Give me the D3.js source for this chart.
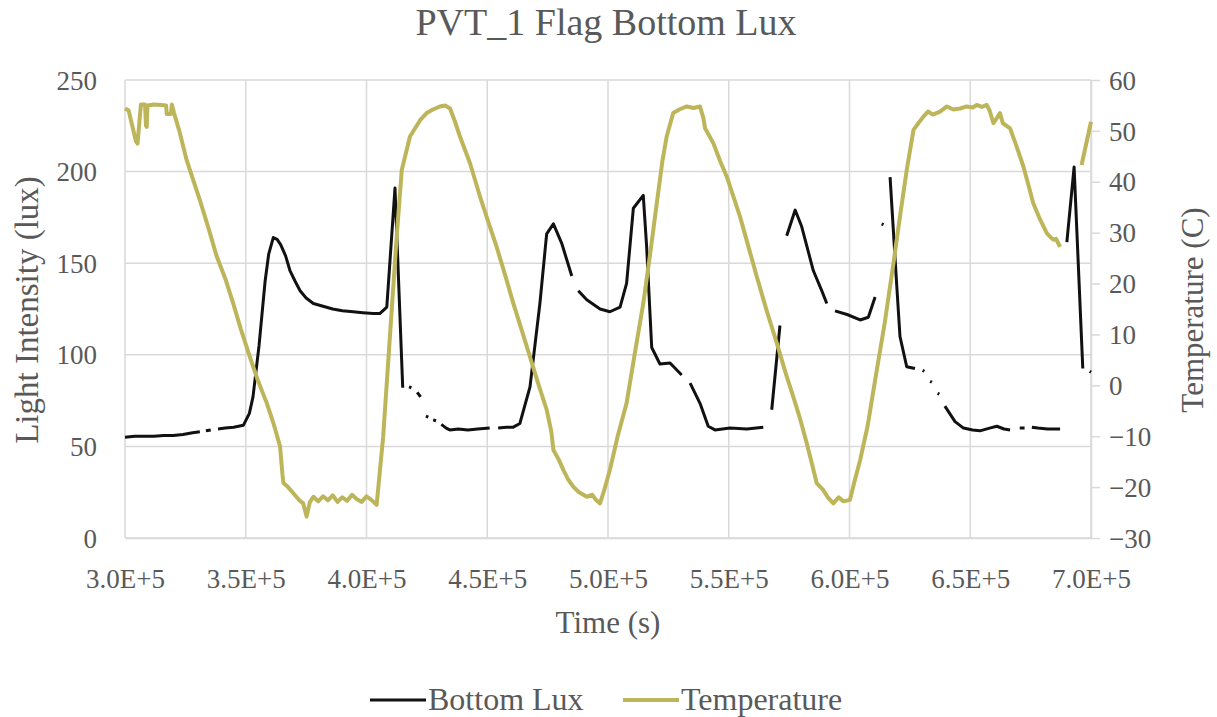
<!DOCTYPE html>
<html>
<head>
<meta charset="utf-8">
<script src="https://cdn.jsdelivr.net/npm/d3@7"></script>
<style>
  body { margin: 0; background: #fff; }
  svg text { font-family: "Liberation Serif", "DejaVu Serif", serif !important; fill: #595959; }
</style>
</head>
<body>
<div id="chart"></div>
<script>
// x ticks (seconds) and y ticks
var xTicks = [300000, 350000, 400000, 450000, 500000, 550000, 600000, 650000, 700000];
var xTickLabels = ["3.0E+5", "3.5E+5", "4.0E+5", "4.5E+5", "5.0E+5", "5.5E+5", "6.0E+5", "6.5E+5", "7.0E+5"];
var luxTicks = [0, 50, 100, 150, 200, 250];
var tempTicks = [-30, -20, -10, 0, 10, 20, 30, 40, 50, 60];

// Bottom Lux series (null = gap in the logged data)
var luxTime = [300000, 304000, 308000, 312000, 316000, 320000, 324000, 328000, 331000, 332000,
  333500, 335500, 336500, 338500, 341500, 345000, 349000, 351500, 353000, 355500,
  358000, 359500, 361400, 363000, 364500, 366500, 368300, 370500, 372500, 375000,
  378000, 382000, 386000, 390000, 394500, 398500, 402800, 405500, 408400, 411800,
  415000, 416200, 417600, 418600, 419200, 421000, 422400, 423000, 424600, 425600,
  426200, 427600, 428800, 429400, 431000, 433000, 434500, 438000, 442000, 446000,
  451000, 452500, 454500, 458000, 460800, 463500, 467700, 471800, 474600, 477400,
  480800, 485000, 486200, 487700, 491200, 496700, 500800, 505000, 507700, 510500,
  514600, 516000, 518100, 521500, 525700, 530500, 532200, 534000, 538100, 541500,
  544300, 550500, 557500, 564300, 566000, 567800, 571200, 572600, 574000, 577500,
  580200, 585000, 588500, 590600, 592500, 594000, 599000, 604400, 607800, 610600,
  612000, 613300, 614100, 615000, 616800, 619600, 620900, 623700, 627100, 628500,
  630300, 631000, 631600, 633400, 634100, 634700, 636500, 637200, 637800, 639500,
  643700, 647200, 651000, 654000, 658000, 661000, 664000, 666500, 668000, 670500,
  672500, 674000, 675500, 678000, 682000, 687200, 688500, 690000, 693000, 696600,
  698500, 699500, 700000];
var luxValue = [55, 55.5, 55.5, 55.5, 56, 56, 56.5, 57.5, 58, null,
  58.5, 59, null, 59.5, 60, 60.5, 61.5, 68, 77, 105,
  140, 155, 164, 163, 160, 154, 146, 140, 135, 131,
  128, 126.5, 125, 124, 123.5, 123, 122.5, 122.5, 126, 191,
  82, null, 82.5, 82, null, 79.5, 77, null, 66.5, 66,
  null, 64.5, 64, null, 62, 60, 59, 59.5, 59, 59.5,
  60, null, 60, 60.5, 60.5, 62.5, 82.5, 128, 166, 171.5,
  161, 143, null, 135, 130, 125, 123.5, 126, 139, 180,
  187, 159, 104, 95, 95.5, 89, null, 84.5, 73.5, 61,
  59, 60, 59.5, 60.5, null, 70, 116, null, 165, 179,
  170, 146, 135, 128, null, 124, 122, 119, 120.5, 131.5,
  null, 171.5, 171, null, 197, 137, 110, 93.5, 92.5, null,
  91.5, 91, null, 85.5, 85, null, 79, 78.5, null, 72,
  63.5, 60, 59, 58.5, 60, 61, 59.5, 59, null, 60,
  60, null, 60.5, 60, 59.5, 59.5, null, 161.5, 202.5, 92.5,
  null, 91, 90.5];

// Temperature series
var tempTime = [300000, 301500, 303000, 304500, 305200, 306000, 306600, 308300, 308700, 309000,
  309300, 312000, 315000, 317000, 317300, 319000, 319400, 320300, 322500, 325500,
  328500, 331000, 334500, 338000, 341500, 344800, 348000, 351700, 355000, 358700,
  361500, 364200, 365200, 365600, 367500, 369700, 372000, 373800, 375200, 376500,
  378000, 380000, 382000, 384000, 386000, 388000, 390000, 392000, 394000, 396000,
  398000, 400000, 402000, 404200, 406900, 409700, 412500, 414600, 418000, 422200,
  424900, 427500, 430400, 432500, 434600, 436500, 438700, 442900, 447000, 450500,
  453900, 457500, 460800, 464500, 467700, 471000, 474600, 476500, 477400, 479500,
  481500, 483500, 485600, 488000, 491200, 493500, 495000, 496700, 498500, 500800,
  504000, 507700, 511000, 514600, 517500, 520200, 522500, 524300, 527000, 529500,
  532600, 535500, 538100, 539500, 540200, 543600, 546500, 549200, 552000, 554700,
  558000, 561600, 565500, 569900, 573500, 576700, 579500, 582300, 584500, 586400,
  589000, 591000, 593300, 595500, 597500, 600200, 602000, 604400, 607500, 611300,
  614500, 618200, 621000, 623700, 626500, 628500, 630600, 632500, 634500, 637500,
  640300, 643000, 645800, 648500, 651000, 652700, 654800, 656800, 658000, 659600,
  661000, 662300, 663500, 666500, 669500, 672000, 674000, 676100, 679000, 681700,
  683500, 684500, 685500, 687200, 688500, 696100, 700000];
var tempValue = [54.4, 54, 51, 48, 47.5, 52, 55.2, 55.2, 51, 50.8,
  55, 55.2, 55.1, 55, 53.3, 53.3, 55.2, 53.5, 50, 44.3,
  40, 36.4, 31, 25.3, 21, 16.1, 11, 5.6, 1, -3.5,
  -7.5, -12, -17.5, -19.2, -20, -21.2, -22.5, -23.2, -25.8, -23,
  -21.9, -22.8, -21.8, -22.6, -21.6, -22.9, -22, -22.7, -21.5, -22.4,
  -22.9, -21.8, -22.5, -23.5, -10.1, 9.6, 29.2, 42.3, 48.9, 52.1,
  53.5, 54.2, 54.8, 55, 54.4, 52, 48.9, 43.6, 37.1, 32,
  27.2, 21.5, 16.1, 10.5, 5.6, 0.5, -4.8, -9, -12.7, -14.5,
  -16.6, -18.5, -19.9, -21, -21.9, -21.5, -22.5, -23.2, -20.5, -16.6,
  -10, -3.5, 6, 16.1, 26, 35.8, 44, 48.9, 53.5, 54.2,
  54.8, 54.5, 54.8, 52.5, 50.5, 47.6, 44, 41, 37, 33.1,
  27.5, 21.4, 15, 8.3, 2.5, -2.2, -6.5, -11.4, -15.5, -19.2,
  -20.5, -22, -23.2, -22, -22.8, -22.5, -19, -14.7, -8, 3,
  12, 24, 33.5, 42.3, 50.2, 51.5, 52.8, 53.8, 53.2, 53.8,
  54.8, 54.2, 54.4, 54.8, 54.6, 55.1, 54.7, 55.1, 54, 51.5,
  52.5, 53.5, 51.5, 50.5, 46.5, 43, 39.5, 35.8, 32.5, 29.9,
  29, 28.6, 28.8, 27.2, null, 43.3, 51.8];

var luxData = luxTime.map(function(t, i) { return {t: t, v: luxValue[i]}; });
var tempData = tempTime.map(function(t, i) { return {t: t, v: tempValue[i]}; });

var W = 1217, H = 717;
var margin = {top: 80, right: 126, bottom: 179, left: 125};
var width = W - margin.left - margin.right,
    height = H - margin.top - margin.bottom;
var serif = '"Liberation Serif", "DejaVu Serif", serif';

var svg = d3.select("#chart")
  .append("svg")
    .attr("width", W)
    .attr("height", H)
    .attr("font-family", serif);

var g = svg.append("g")
    .attr("transform", "translate(" + margin.left + "," + margin.top + ")");

var x = d3.scaleLinear().domain([300000, 700000]).range([0, width]);
var yL = d3.scaleLinear().domain([0, 250]).range([height, 0]);
var yR = d3.scaleLinear().domain([-30, 60]).range([height, 0]);

var gridColor = "#d9d9d9";

// gridlines
g.selectAll(".hgrid")
  .data(luxTicks)
  .enter().append("line")
    .attr("x1", 0).attr("x2", width)
    .attr("y1", function(d) { return yL(d); })
    .attr("y2", function(d) { return yL(d); })
    .attr("stroke", gridColor).attr("stroke-width", 1.5);
g.selectAll(".vgrid")
  .data(xTicks)
  .enter().append("line")
    .attr("x1", function(d) { return x(d); })
    .attr("x2", function(d) { return x(d); })
    .attr("y1", 0).attr("y2", height)
    .attr("stroke", gridColor).attr("stroke-width", 1.5);

// x axis labels
var xAxis = g.append("g")
  .attr("transform", "translate(0," + height + ")")
  .call(d3.axisBottom(x).tickValues(xTicks).tickSize(0).tickPadding(0)
    .tickFormat(function(d, i) { return xTickLabels[i]; }));
xAxis.attr("font-family", serif).attr("font-size", 27);
xAxis.select(".domain").attr("stroke", gridColor).attr("stroke-width", 1.5);
xAxis.selectAll("text").attr("dy", null).attr("y", 50);

// left axis labels
var leftAxis = g.append("g")
  .call(d3.axisLeft(yL).tickValues(luxTicks).tickSize(0).tickPadding(28));
leftAxis.attr("font-family", serif).attr("font-size", 27);
leftAxis.select(".domain").remove();
leftAxis.selectAll("text").attr("dy", "0.34em");

// right axis with outward ticks
var rightAxis = g.append("g")
  .attr("transform", "translate(" + width + ",0)")
  .call(d3.axisRight(yR).tickValues(tempTicks).tickSize(9).tickSizeOuter(0).tickPadding(9));
rightAxis.attr("font-family", serif).attr("font-size", 27);
rightAxis.select(".domain").attr("stroke", gridColor).attr("stroke-width", 1.5);
rightAxis.selectAll("line").attr("stroke", gridColor).attr("stroke-width", 1.5);
rightAxis.selectAll("text").attr("dy", "0.34em");

// lines
var luxLine = d3.line()
  .defined(function(d) { return d.v !== null; })
  .x(function(d) { return x(d.t); })
  .y(function(d) { return yL(d.v); });
var tempLine = d3.line()
  .defined(function(d) { return d.v !== null; })
  .x(function(d) { return x(d.t); })
  .y(function(d) { return yR(d.v); });

var tempColor = "#bdb55a";
g.append("path")
  .datum(luxData)
  .attr("fill", "none")
  .attr("stroke", "#111")
  .attr("stroke-width", 3)
  .attr("stroke-linejoin", "round")
  .attr("d", luxLine);
g.append("path")
  .datum(tempData)
  .attr("fill", "none")
  .attr("stroke", tempColor)
  .attr("stroke-width", 4)
  .attr("stroke-linejoin", "round")
  .attr("d", tempLine);

// titles
svg.append("text")
  .attr("x", 606).attr("y", 35)
  .attr("text-anchor", "middle")
  .attr("font-size", 38)
  .text("PVT_1 Flag Bottom Lux");

svg.append("text")
  .attr("x", 608).attr("y", 633)
  .attr("text-anchor", "middle")
  .attr("font-size", 31)
  .text("Time (s)");

svg.append("text")
  .attr("transform", "translate(38,310) rotate(-90)")
  .attr("text-anchor", "middle")
  .attr("font-size", 33)
  .text("Light Intensity (lux)");

svg.append("text")
  .attr("transform", "translate(1203,310) rotate(-90)")
  .attr("text-anchor", "middle")
  .attr("font-size", 31)
  .text("Temperature (C)");

// legend
var legendItems = [
  {name: "Bottom Lux", color: "#111", x: 370},
  {name: "Temperature", color: tempColor, x: 623}
];
var leg = svg.selectAll(".legend")
  .data(legendItems)
  .enter().append("g")
    .attr("transform", function(d) { return "translate(" + d.x + ",700)"; });
leg.append("line")
  .attr("x1", 0).attr("x2", 56)
  .attr("stroke", function(d) { return d.color; })
  .attr("stroke-width", function(d, i) { return i === 0 ? 3 : 4; });
leg.append("text")
  .attr("x", 58).attr("y", 10)
  .attr("font-size", 32)
  .text(function(d) { return d.name; });
</script>
</body>
</html>
